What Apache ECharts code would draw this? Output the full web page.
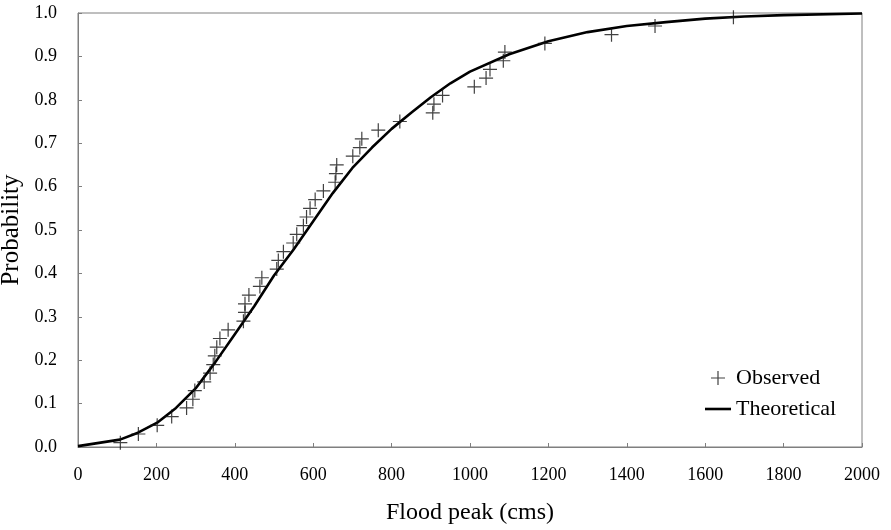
<!DOCTYPE html>
<html>
<head>
<meta charset="utf-8">
<script src="https://cdn.jsdelivr.net/npm/echarts@6/dist/echarts.min.js"></script>
<style>html,body{margin:0;padding:0;background:#fff;}#c{width:891px;height:530px;}</style>
</head>
<body>
<div id="c"></div>
<script>
// Observed flood peaks (cms) and plotting-position probabilities
var observedX = [108,154,202,239,277,293,298,322,337,345,349,354,362,383,422,426,426,436,464,469,507,511,524,549,558,575,583,592,605,626,656,658,660,701,719,724,766,821,905,908,930,1011,1041,1051,1085,1089,1191,1361,1472,1672];
var observedY = [0.01,0.03,0.05,0.07,0.09,0.11,0.13,0.15,0.17,0.19,0.21,0.23,0.25,0.27,0.29,0.31,0.33,0.35,0.37,0.39,0.41,0.43,0.45,0.47,0.49,0.51,0.53,0.55,0.57,0.59,0.61,0.63,0.65,0.67,0.69,0.71,0.73,0.75,0.77,0.79,0.81,0.83,0.85,0.87,0.89,0.91,0.93,0.95,0.97,0.99];
// Theoretical CDF
var theoX = [0,107,153,202,250,300,350,400,450,500,550,600,650,700,750,800,850,900,950,1000,1100,1200,1300,1400,1500,1600,1700,1800,2000];
var theoY = [0.002,0.017,0.033,0.056,0.09,0.135,0.195,0.26,0.325,0.395,0.455,0.52,0.585,0.643,0.69,0.733,0.77,0.806,0.838,0.865,0.905,0.935,0.956,0.97,0.979,0.987,0.992,0.995,0.999];
var xTicks = {min:0, max:2000, interval:200};
var yTicks = {min:0, max:1, interval:0.1};

var obs = observedX.map(function(x,i){return [x, observedY[i]];});
var theo = theoX.map(function(x,i){return [x, theoY[i]];});
var plus = 'path://M-7,-0.6L7,-0.6L7,0.6L-7,0.6Z M-0.6,-7L0.6,-7L0.6,7L-0.6,7Z';
var dash = 'path://M0,0L26,0L26,2.6L0,2.6Z';
var font = 'Liberation Serif';

var chart = echarts.init(document.getElementById('c'), null, {renderer:'canvas'});
chart.setOption({
  animation:false,
  backgroundColor:'#fff',
  textStyle:{fontFamily:font},
  grid:{left:78, right:29, top:13, bottom:83, show:true, borderColor:'#7f7f7f', borderWidth:1, containLabel:false, outerBoundsMode:'none'},
  xAxis:{
    type:'value', min:xTicks.min, max:xTicks.max, interval:xTicks.interval,
    name:'Flood peak (cms)', nameLocation:'middle', nameGap:54,
    nameTextStyle:{fontFamily:font, fontSize:24, color:'#000'},
    axisLine:{show:true, lineStyle:{color:'#7f7f7f', width:1}},
    axisTick:{show:true, inside:true, length:4, lineStyle:{color:'#7f7f7f'}},
    axisLabel:{fontFamily:font, fontSize:18, color:'#000', margin:19, formatter:function(v){return String(v);}},
    splitLine:{show:false}
  },
  yAxis:{
    type:'value', min:yTicks.min, max:yTicks.max, interval:yTicks.interval,
    name:'Probability', nameLocation:'middle', nameGap:48,
    nameTextStyle:{fontFamily:font, fontSize:25, color:'#000'},
    axisLine:{show:true, lineStyle:{color:'#7f7f7f', width:1}},
    axisTick:{show:true, inside:true, length:4, lineStyle:{color:'#7f7f7f'}},
    axisLabel:{fontFamily:font, fontSize:18, color:'#000', margin:21, formatter:function(v){return v.toFixed(1);}},
    splitLine:{show:false}
  },
  legend:{
    orient:'vertical', left:700, top:362, itemGap:9, itemWidth:26, itemHeight:14,
    textStyle:{fontFamily:font, fontSize:22, color:'#000'},
    data:[{name:'Observed', icon:plus}, {name:'Theoretical', icon:dash}]
  },
  series:[
    {name:'Theoretical', type:'line', data:theo, showSymbol:false, symbol:'none', smooth:false,
     lineStyle:{color:'#000', width:2.6}, itemStyle:{color:'#000'}, z:3},
    {name:'Observed', type:'scatter', data:obs, symbol:plus, symbolSize:14,
     itemStyle:{color:'#111'}, z:4}
  ]
});
</script>
</body>
</html>
